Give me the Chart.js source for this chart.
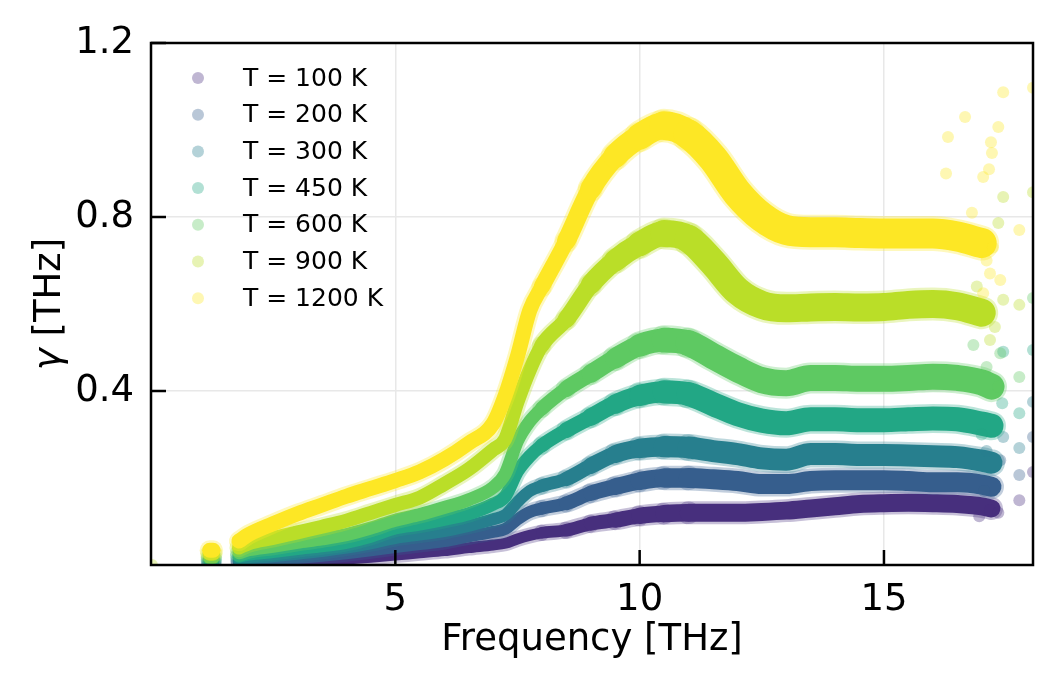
<!DOCTYPE html>
<html>
<head>
<meta charset="utf-8">
<script src="https://cdn.jsdelivr.net/npm/chart.js@4.4.1/dist/chart.umd.min.js"></script>
<style>
  html, body { margin: 0; padding: 0; background: #fff; }
</style>
</head>
<body>
<canvas id="gammaChart" width="1063" height="687"></canvas>
<script>
// temperatures and viridis colours
const labels = ["T = 100 K", "T = 200 K", "T = 300 K", "T = 450 K", "T = 600 K", "T = 900 K", "T = 1200 K"];
const colors = ["#472f7d", "#365e8d", "#277f8e", "#22a785", "#5ec962", "#bade28", "#fde725"];

// frequency grid (THz), null in the series marks the gap after the first column
const freq = [1.2, 1.27, 1.5, 1.8, 2.0, 2.5, 3.0, 3.5, 4.0, 4.5, 5.0, 5.5, 6.0, 6.5, 7.0, 7.25, 7.5, 7.75, 8.0,
              8.5, 9.0, 9.5, 10.0, 10.5, 11.0, 11.5, 12.0, 12.5, 13.0, 13.5, 14.0, 14.5, 15.0, 15.5, 16.0, 16.5, 17.0, 17.2];

const g100  = [0.000, 0.000, null, 0.003, 0.004, 0.006, 0.008, 0.011, 0.014, 0.018, 0.023, 0.028, 0.033, 0.040, 0.046, 0.050, 0.060, 0.068, 0.074,
               0.080, 0.095, 0.103, 0.113, 0.118, 0.120, 0.120, 0.120, 0.122, 0.125, 0.130, 0.135, 0.140, 0.142, 0.143, 0.142, 0.140, 0.135, 0.130];
const g200  = [0.003, 0.003, null, 0.007, 0.009, 0.012, 0.016, 0.021, 0.027, 0.034, 0.041, 0.048, 0.055, 0.066, 0.076, 0.083, 0.105, 0.122, 0.130,
               0.142, 0.165, 0.180, 0.193, 0.200, 0.200, 0.197, 0.193, 0.186, 0.186, 0.193, 0.195, 0.195, 0.195, 0.193, 0.190, 0.190, 0.185, 0.180];
const g300  = [0.007, 0.007, null, 0.012, 0.015, 0.020, 0.026, 0.032, 0.040, 0.050, 0.062, 0.070, 0.078, 0.090, 0.105, 0.115, 0.145, 0.170, 0.182,
               0.198, 0.228, 0.255, 0.268, 0.272, 0.270, 0.262, 0.255, 0.245, 0.242, 0.255, 0.255, 0.253, 0.253, 0.252, 0.250, 0.248, 0.240, 0.235];
const g450  = [0.012, 0.012, null, 0.020, 0.025, 0.031, 0.038, 0.044, 0.052, 0.066, 0.085, 0.094, 0.105, 0.118, 0.140, 0.158, 0.215, 0.250, 0.275,
               0.310, 0.340, 0.370, 0.390, 0.398, 0.393, 0.370, 0.347, 0.332, 0.326, 0.335, 0.335, 0.333, 0.333, 0.335, 0.337, 0.335, 0.325, 0.320];
const g600  = [0.017, 0.017, null, 0.028, 0.035, 0.043, 0.052, 0.060, 0.070, 0.085, 0.103, 0.116, 0.132, 0.150, 0.178, 0.210, 0.285, 0.330, 0.360,
               0.405, 0.440, 0.475, 0.505, 0.517, 0.510, 0.480, 0.450, 0.425, 0.418, 0.430, 0.430, 0.428, 0.428, 0.430, 0.433, 0.430, 0.420, 0.410];
const g900  = [0.026, 0.026, null, 0.040, 0.050, 0.062, 0.075, 0.088, 0.102, 0.120, 0.138, 0.155, 0.186, 0.220, 0.265, 0.290, 0.375, 0.448, 0.505,
               0.565, 0.645, 0.700, 0.738, 0.762, 0.750, 0.695, 0.630, 0.598, 0.590, 0.592, 0.593, 0.592, 0.593, 0.598, 0.600, 0.595, 0.580, null];
const g1200 = [0.034, 0.034, null, 0.055, 0.070, 0.095, 0.118, 0.138, 0.158, 0.176, 0.194, 0.214, 0.243, 0.280, 0.325, 0.390, 0.480, 0.585, 0.640,
               0.745, 0.865, 0.940, 0.985, 1.010, 0.990, 0.935, 0.855, 0.800, 0.770, 0.765, 0.765, 0.763, 0.762, 0.762, 0.762, 0.755, 0.740, null];
const series = [g100, g200, g300, g450, g600, g900, g1200];

// scattered points around and past the end of the bands
const tailF = [
  [16.95, 17.17, 17.34, 17.77, 18.05],
  [17.05, 17.38, 17.77, 18.05],
  [17.1, 17.44, 17.77, 18.05],
  [17.0, 17.42, 17.44, 17.77, 18.05],
  [16.83, 17.1, 17.34, 17.38, 17.77, 18.05],
  [0.02, 16.9, 17.17, 17.27, 17.34, 17.44, 17.44, 17.77, 18.05],
  [16.27, 16.31, 16.66, 16.8, 17.03, 17.03, 17.1, 17.15, 17.17, 17.19, 17.21, 17.23, 17.34, 17.38, 17.44, 17.77, 18.05]
];
const tailG = [
  [0.112, 0.126, 0.120, 0.149, 0.214],
  [0.170, 0.241, 0.207, 0.294],
  [0.262, 0.294, 0.269, 0.375],
  [0.300, 0.372, 0.490, 0.349, 0.494],
  [0.506, 0.455, 0.410, 0.487, 0.432, 0.614],
  [0.000, 0.640, 0.517, 0.547, 0.786, 0.846, 0.610, 0.598, 0.857],
  [0.900, 0.984, 1.030, 0.810, 0.892, 0.625, 0.700, 0.910, 0.670, 0.972, 0.947, 0.730, 1.007, 0.655, 1.087, 0.770, 1.097]
];

const xTicks = [5, 10, 15];
const yTicks = [0.4, 0.8, 1.2];

const FONT = "'DejaVu Sans', sans-serif";

function fade(hex, a) {
  const n = parseInt(hex.slice(1), 16);
  return `rgba(${n >> 16}, ${(n >> 8) & 255}, ${n & 255}, ${a})`;
}

// band gets thicker where the data is noisier
const loWidth = [11, 12, 12, 13, 13, 14, 15];
const hiWidth = [18, 20, 22, 24, 26, 28, 30];
function bandWidth(x, i) {
  const t = Math.min(1, Math.max(0, (x - 8) / 3));
  return loWidth[i] + t * (hiWidth[i] - loWidth[i]);
}

const datasets = [];
series.forEach((vals, i) => {
  const pts = freq.map((f, k) => ({ x: f, y: vals[k] }));
  const base = (6 - i) * 3;
  const common = {
    data: pts,
    showLine: true,
    borderCapStyle: "round",
    borderJoinStyle: "round",
    cubicInterpolationMode: "monotone",
    pointRadius: 0,
    spanGaps: false,
    clip: 0
  };
  datasets.push({
    ...common,
    label: labels[i] + " halo",
    borderColor: fade(colors[i], 0.3),
    borderWidth: loWidth[i] + 5,
    order: base + 2,
    segment: { borderWidth: ctx => bandWidth((ctx.p0.parsed.x + ctx.p1.parsed.x) / 2, i) + 5 }
  });
  datasets.push({
    ...common,
    label: labels[i],
    borderColor: colors[i],
    borderWidth: loWidth[i],
    order: base + 1,
    segment: { borderWidth: ctx => bandWidth((ctx.p0.parsed.x + ctx.p1.parsed.x) / 2, i) }
  });
  datasets.push({
    label: labels[i] + " tail",
    data: tailF[i].map((f, k) => ({ x: f, y: tailG[i][k] })),
    showLine: false,
    pointRadius: 6,
    pointBorderWidth: 0,
    pointBackgroundColor: fade(colors[i], 0.35),
    pointBorderColor: "rgba(0,0,0,0)",
    clip: 0,
    order: base
  });
});

const framePlugin = {
  id: "frame",
  afterDatasetsDraw(chart) {
    const { ctx, chartArea: a, scales: { x, y } } = chart;
    ctx.save();
    ctx.strokeStyle = "#000";
    ctx.lineWidth = 2.5;
    ctx.strokeRect(a.left, a.top, a.right - a.left, a.bottom - a.top);
    ctx.beginPath();
    xTicks.forEach(v => {
      const px = x.getPixelForValue(v);
      ctx.moveTo(px, a.bottom);
      ctx.lineTo(px, a.bottom - 15);
    });
    yTicks.forEach(v => {
      const py = y.getPixelForValue(v);
      ctx.moveTo(a.left, py);
      ctx.lineTo(a.left + 15, py);
    });
    ctx.stroke();

    // legend in the upper left corner
    ctx.font = "25px " + FONT;
    ctx.textBaseline = "middle";
    ctx.textAlign = "left";
    labels.forEach((t, i) => {
      const cy = 78 + i * 36.7;
      ctx.fillStyle = fade(colors[i], 0.35);
      ctx.beginPath();
      ctx.arc(198, cy, 6, 0, Math.PI * 2);
      ctx.fill();
      ctx.fillStyle = "#000";
      ctx.fillText(t, 243, cy + 1);
    });

    // y axis label with an italic gamma
    ctx.translate(50, (a.top + a.bottom) / 2);
    ctx.rotate(-Math.PI / 2);
    ctx.fillStyle = "#000";
    const gam = "γ", rest = " [THz]";
    ctx.font = "italic 37px " + FONT;
    const w1 = ctx.measureText(gam).width;
    ctx.font = "37px " + FONT;
    const w2 = ctx.measureText(rest).width;
    const start = -(w1 + w2) / 2;
    ctx.font = "italic 37px " + FONT;
    ctx.fillText(gam, start, 0);
    ctx.font = "37px " + FONT;
    ctx.fillText(rest, start + w1, 0);
    ctx.restore();
  }
};

new Chart(document.getElementById("gammaChart"), {
  type: "scatter",
  data: { datasets },
  options: {
    responsive: false,
    devicePixelRatio: 1,
    animation: false,
    layout: { padding: { top: 43, right: 30, left: 0, bottom: 0 } },
    plugins: {
      legend: { display: false },
      tooltip: { enabled: false }
    },
    scales: {
      x: {
        type: "linear",
        min: 0,
        max: 18.05,
        afterBuildTicks: s => { s.ticks = xTicks.map(v => ({ value: v })); },
        afterFit: s => { s.height = 122; },
        border: { display: false },
        grid: { color: "#e8e8e8", lineWidth: 1.5, drawTicks: false },
        ticks: {
          color: "#000",
          font: { family: FONT, size: 37 },
          padding: 13,
          maxRotation: 0,
          autoSkip: false,
          callback: v => String(v)
        },
        title: {
          display: true,
          text: "Frequency [THz]",
          color: "#000",
          font: { family: FONT, size: 37 },
          padding: { top: 0, bottom: 24 }
        }
      },
      y: {
        type: "linear",
        min: 0,
        max: 1.2,
        afterBuildTicks: s => { s.ticks = yTicks.map(v => ({ value: v })); },
        afterFit: s => { s.width = 151; },
        border: { display: false },
        grid: { color: "#e8e8e8", lineWidth: 1.5, drawTicks: false },
        ticks: {
          color: "#000",
          font: { family: FONT, size: 37 },
          padding: 17,
          autoSkip: false,
          callback: v => v.toFixed(1)
        },
        title: { display: false }
      }
    }
  },
  plugins: [framePlugin]
});
</script>
</body>
</html>
